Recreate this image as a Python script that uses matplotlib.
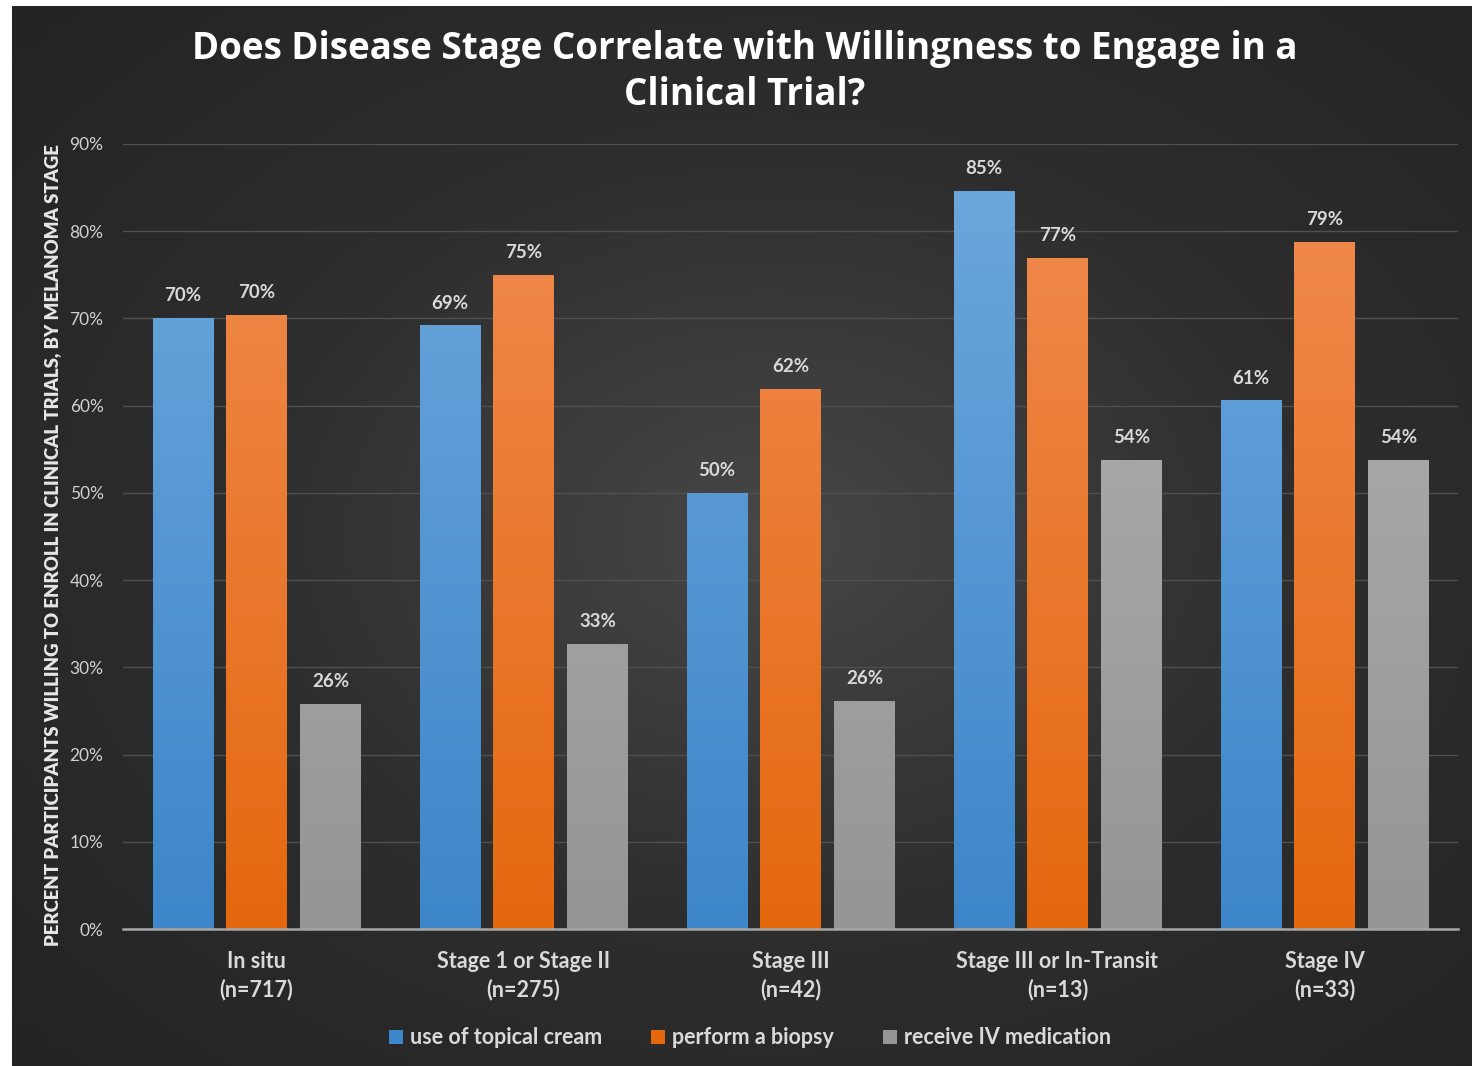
import numpy as np
import matplotlib
matplotlib.use("Agg")
import matplotlib.pyplot as plt
from matplotlib.colors import LinearSegmentedColormap

categories = ["In situ\n(n=717)", "Stage 1 or Stage II\n(n=275)", "Stage III\n(n=42)",
              "Stage III or In-Transit\n(n=13)", "Stage IV\n(n=33)"]
series_names = ["use of topical cream", "perform a biopsy", "receive IV medication"]
topical = [70.1, 69.2, 50.0, 84.6, 60.6]
biopsy = [70.4, 75.0, 61.9, 76.9, 78.8]
iv_med = [25.8, 32.7, 26.1, 53.8, 53.8]
labels_topical = ["70%", "69%", "50%", "85%", "61%"]
labels_biopsy = ["70%", "75%", "62%", "77%", "79%"]
labels_iv = ["26%", "33%", "26%", "54%", "54%"]
yticks = [0, 10, 20, 30, 40, 50, 60, 70, 80, 90]

plt.rcParams['font.family'] = ['Lato', 'DejaVu Sans']

W, H = 1472, 1066
fig = plt.figure(figsize=(W / 100, H / 100), dpi=100, facecolor="white")

# background panel with radial gradient
bg = fig.add_axes([12 / W, 0, 1 - 12 / W, 1 - 6 / H])
bg.set_axis_off()
yy, xx = np.mgrid[0:1:400j, 0:1:560j]
r = np.sqrt(((xx - 0.52) / 0.75) ** 2 + ((yy - 0.5) / 0.75) ** 2)
val = np.clip(1 - r, 0, 1)
bgcm = LinearSegmentedColormap.from_list("bg", ["#232323", "#2e2e2e", "#474747"])
bg.imshow(val, cmap=bgcm, aspect="auto", extent=[0, 1, 0, 1], interpolation="bilinear")
bg.set_xlim(0, 1)
bg.set_ylim(0, 1)

ax = fig.add_axes([123 / W, 1 - 929 / H, 1335 / W, (929 - 144) / H])
ax.patch.set_alpha(0)
ax.set_ylim(0, 90)
ax.set_xlim(-0.5, len(categories) - 0.5)

width = 0.225
offsets = [-0.277, 0.0, 0.277]
grads = [("#6ea8dd", "#3d86c9"), ("#f08c52", "#e5680f"), ("#b3b3b3", "#959595")]
all_vals = [topical, biopsy, iv_med]
all_labels = [labels_topical, labels_biopsy, labels_iv]
x = np.arange(len(categories))

for vals, labs, off, (ctop, cbot), name in zip(all_vals, all_labels, offsets, grads, series_names):
    bars = ax.bar(x + off, vals, width, color=cbot, label=name, zorder=3)
    cm = LinearSegmentedColormap.from_list("g", [cbot, ctop])
    grad = np.linspace(0, 1, 256).reshape(-1, 1)
    for b, lab in zip(bars, labs):
        bx, bw, bh = b.get_x(), b.get_width(), b.get_height()
        im = ax.imshow(grad, cmap=cm, aspect="auto", origin="lower",
                       extent=[bx, bx + bw, 0, 90], zorder=4)
        im.set_clip_path(b)
        ax.annotate(lab, (bx + bw / 2, bh), xytext=(0, 10), textcoords="offset points",
                    ha="center", va="bottom", color="#d9d9d9", fontsize=13.5,
                    fontweight="bold", zorder=5)

ax.set_xlim(-0.5, len(categories) - 0.5)
ax.set_ylim(0, 90)
ax.set_yticks(yticks)
ax.set_yticklabels([f"{v}%" for v in yticks], color="#d0d0d0", fontsize=12.5)
ax.set_xticks(x)
ax.set_xticklabels(categories, color="#d9d9d9", fontsize=15.5, fontweight="bold", linespacing=1.38)
ax.tick_params(axis="both", length=0)
ax.tick_params(axis="y", pad=14)
ax.tick_params(axis="x", pad=16)
ax.grid(axis="y", color="#4f4f4f", linewidth=1, zorder=0)
ax.grid(axis="x", visible=False)
for s in ["top", "right", "left"]:
    ax.spines[s].set_visible(False)
ax.spines["bottom"].set_color("#a6a6a6")
ax.spines["bottom"].set_linewidth(1.8)
ax.spines["bottom"].set_zorder(6)

fig.text(53 / W, 1 - 545 / H,
         "PERCENT PARTICIPANTS WILLING TO ENROLL IN CLINICAL TRIALS, BY MELANOMA STAGE",
         rotation=90, ha="center", va="center", color="#e6e6e6", fontsize=13.4,
         fontweight="heavy")

fig.text(745 / W, 1 - 72 / H,
         "Does Disease Stage Correlate with Willingness to Engage in a\nClinical Trial?",
         ha="center", va="center", color="white", fontsize=26.5, fontweight="bold",
         linespacing=1.27, family=["Open Sans", "DejaVu Sans"])

leg = fig.legend(loc="center", bbox_to_anchor=(750 / W, 1 - 1038 / H), ncol=3,
                 frameon=False, fontsize=15.5, handlelength=0.65, handleheight=0.65,
                 handletextpad=0.3, columnspacing=2.3, labelcolor="#d9d9d9")
for t in leg.get_texts():
    t.set_fontweight("bold")

fig.savefig("out.png", dpi=100, facecolor="white")
